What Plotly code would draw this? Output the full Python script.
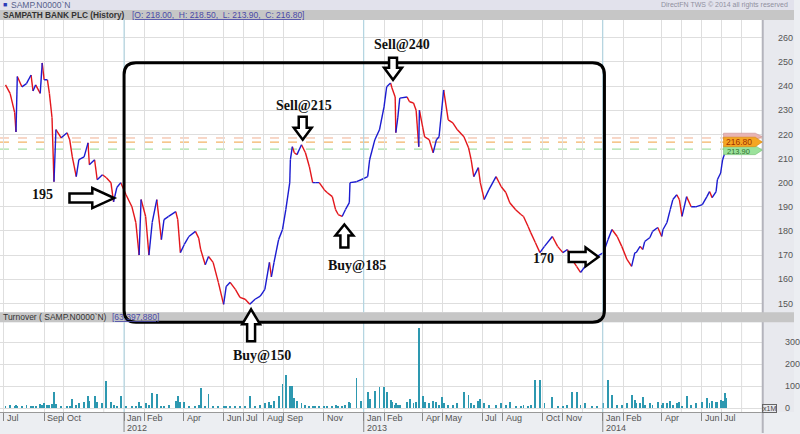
import plotly.graph_objects as go

# ---------------- data ----------------
dates = [
    "2011-07-04", "2011-07-11", "2011-07-18", "2011-07-20", "2011-07-22", "2011-07-29", "2011-08-05",
    "2011-08-12", "2011-08-15", "2011-08-19", "2011-08-26", "2011-08-29", "2011-09-01", "2011-09-06",
    "2011-09-09", "2011-09-13", "2011-09-16", "2011-09-19", "2011-09-27", "2011-10-06", "2011-10-10",
    "2011-10-14", "2011-10-20", "2011-10-24", "2011-11-01", "2011-11-07", "2011-11-09", "2011-11-17",
    "2011-11-21", "2011-11-29", "2011-12-05", "2011-12-12", "2011-12-16", "2011-12-21", "2011-12-27",
    "2012-01-04", "2012-01-13", "2012-01-19", "2012-01-24", "2012-01-27", "2012-02-03", "2012-02-08",
    "2012-02-13", "2012-02-20", "2012-02-27", "2012-03-02", "2012-03-09", "2012-03-20", "2012-03-23",
    "2012-03-27", "2012-04-02", "2012-04-09", "2012-04-19", "2012-04-24", "2012-04-27", "2012-05-04",
    "2012-05-09", "2012-05-16", "2012-05-24", "2012-06-01", "2012-06-05", "2012-06-11", "2012-06-19",
    "2012-06-26", "2012-07-04", "2012-07-11", "2012-07-19", "2012-07-27", "2012-08-03", "2012-08-10",
    "2012-08-13", "2012-08-17", "2012-08-24", "2012-08-30", "2012-09-04", "2012-09-10", "2012-09-11",
    "2012-09-14", "2012-09-17", "2012-09-21", "2012-09-28", "2012-10-04", "2012-10-10", "2012-10-15",
    "2012-10-19", "2012-10-25", "2012-11-02", "2012-11-06", "2012-11-14", "2012-11-19", "2012-11-23",
    "2012-11-29", "2012-12-04", "2012-12-10", "2012-12-11", "2012-12-21", "2012-12-28",
    "2013-01-07", "2013-01-10", "2013-01-18", "2013-01-25", "2013-02-01", "2013-02-05", "2013-02-11",
    "2013-02-13", "2013-02-18", "2013-02-19", "2013-02-22", "2013-02-25", "2013-03-08", "2013-03-12",
    "2013-03-18", "2013-03-22", "2013-03-26", "2013-03-27", "2013-04-01", "2013-04-04", "2013-04-11",
    "2013-04-17", "2013-04-22", "2013-04-26", "2013-04-30", "2013-05-03", "2013-05-10", "2013-05-17",
    "2013-05-24", "2013-06-03", "2013-06-10", "2013-06-14", "2013-06-18", "2013-06-25", "2013-06-28",
    "2013-07-04", "2013-07-11", "2013-07-22", "2013-07-30", "2013-08-06", "2013-08-12", "2013-08-21",
    "2013-08-29", "2013-09-02", "2013-09-09", "2013-09-13", "2013-09-20", "2013-09-27", "2013-10-04",
    "2013-10-16", "2013-10-24", "2013-11-01", "2013-11-08", "2013-11-15", "2013-11-22", "2013-11-28",
    "2013-12-05", "2013-12-16", "2013-12-23",
    "2014-01-02", "2014-01-09", "2014-01-15", "2014-01-23", "2014-01-30", "2014-02-07", "2014-02-14",
    "2014-02-19", "2014-02-21", "2014-02-27", "2014-03-03", "2014-03-06", "2014-03-14", "2014-03-18",
    "2014-03-26", "2014-04-01", "2014-04-03", "2014-04-09", "2014-04-14", "2014-04-18", "2014-04-24",
    "2014-04-28", "2014-05-02", "2014-05-09", "2014-05-16", "2014-05-23", "2014-06-02", "2014-06-09",
    "2014-06-13", "2014-06-17", "2014-06-23", "2014-06-25", "2014-06-30", "2014-07-03", "2014-07-07",
    "2014-07-08",
]

close = [
    240.5, 237, 229, 221, 244, 239.7, 241, 244.6, 238, 240.5, 237, 249.6, 242.6, 242.6, 237, 227, 200.4,
    222, 218.6, 220.7, 217.8, 210.7, 202.5, 209.5, 210.7, 216.5, 207.4, 209.5, 201.2, 203.3, 202, 200,
    192, 198, 200,
    195, 190, 183.5, 170, 193, 186, 170, 183.5, 193, 176.4, 184.7, 186, 188, 184.7, 171, 174.4, 177.7,
    179.8, 177, 172.3, 166, 169.4, 167, 158.7, 149.6, 157, 158.7, 155.8, 152.5, 151.7, 149.6, 151.7, 153,
    155.8, 167, 161, 167, 176.4, 180.6, 188.8, 200, 209.5, 214.9, 212.4, 211.6, 215.7, 212.4, 206.6, 200,
    200, 200, 197, 195.9, 194.2, 188.8, 186.8, 186, 188.8, 191.7, 200, 200.4, 201.2,
    202.5, 209.5, 217.8, 221.9, 231.4, 239.7, 241.3, 239.3, 235.5, 220.7, 226.9, 235, 235.5, 233.5, 233,
    230, 214.9, 230, 223, 219, 217.8, 212.4, 217.8, 219, 230, 238.4, 226, 224.8, 221.9, 219, 214.5, 209.5,
    202.5, 206.2, 200, 193, 197, 202.5, 198.3, 195.9, 191.7, 188.8, 186.8, 186, 181.8, 179.3, 175.2, 171,
    173.6, 177.7, 173.6, 171, 172.3, 168.2, 165.3, 162.8, 165.3, 168.2, 169.4,
    171, 176.4, 180.6, 177.7, 173.6, 168.2, 165.3, 171, 171, 173.6, 172.3, 175.6, 177.3, 179.8, 181.4,
    177.7, 180.6, 183.5, 188.8, 193, 195, 193, 186, 194.2, 190, 190, 190.9, 194.2, 196.3, 193.8, 196.3,
    201.2, 204, 209.5, 212.8, 216.8,
]

turnover = [  # millions
    8, 12, 6, 15, 10, 8, 12, 6, 10, 8, 18, 12, 20, 14, 14, 18, 74, 18, 8, 6, 10, 40, 12, 20, 25, 55, 30,
    55, 25, 20, 123, 25, 15, 8, 55,
    6, 8, 10, 25, 8, 20, 15, 68, 64, 10, 8, 12, 30, 55, 25, 25, 10, 8, 15, 91, 8, 64, 6, 8, 5, 6, 8, 5,
    6, 5, 55, 10, 15, 20, 25, 15, 30, 55, 109, 150, 60, 100, 100, 45, 30, 20, 15, 10, 8, 6, 8, 10, 6, 6,
    15, 8, 8, 12, 25, 20, 136, 30,
    73, 40, 77, 95, 95, 73, 35, 25, 15, 20, 12, 12, 25, 40, 20, 25, 364, 136, 55, 25, 20, 30, 25, 15, 50,
    20, 12, 15, 20, 73, 60, 20, 15, 30, 40, 20, 15, 12, 20, 15, 25, 8, 6, 12, 8, 15, 127, 127, 20, 50, 6,
    8, 15, 73, 73, 12, 20, 8, 6,
    20, 127, 59, 15, 12, 20, 59, 35, 20, 20, 50, 15, 20, 12, 25, 15, 20, 20, 30, 15, 20, 25, 10, 55, 15,
    20, 25, 45, 20, 30, 25, 25, 35, 30, 68, 45,
]

label_dates = ["2011-07-01", "2011-09-01", "2011-10-01", "2012-01-01", "2012-02-01", "2012-04-01",
               "2012-06-01", "2012-07-01", "2012-08-01", "2012-09-01", "2012-11-01", "2013-01-01",
               "2013-02-01", "2013-04-01", "2013-05-01", "2013-07-01", "2013-08-01", "2013-10-01",
               "2013-11-01", "2014-01-01", "2014-02-01", "2014-04-01", "2014-06-01", "2014-07-01"]
label_texts = ["Jul", "Sep", "Oct", "Jan", "Feb", "Apr", "Jun", "Jul", "Aug", "Sep", "Nov",
               "Jan", "Feb", "Apr", "May", "Jul", "Aug", "Oct", "Nov", "Jan", "Feb",
               "Apr", "Jun", "Jul"]
year_dates = ["2012-01-01", "2013-01-01", "2014-01-01"]
year_texts = ["2012", "2013", "2014"]
extra_grid_dates = ["2011-12-01", "2013-12-01", "2014-05-01", "2014-08-01"]

price_ticks = [150, 160, 170, 180, 190, 200, 210, 220, 230, 240, 250, 260]
turnover_ticks = [0, 100, 200, 300]

last_high, last_close, last_low = 218.50, 216.80, 213.90

# ---------------- helpers (pixel -> paper) ----------------
W, H = 800, 434


def px(x):
    return x / W


def py(y):
    return 1 - y / H


def poly(points):
    return "M " + " L ".join(f"{px(x):.5f},{py(y):.5f}" for x, y in points) + " Z"


FONT = "Liberation Sans, Arial, sans-serif"
SERIF = "Liberation Serif, Times New Roman, serif"

fig = go.Figure()

# price: segments coloured by direction
up_x, up_y, dn_x, dn_y = [], [], [], []
for i in range(1, len(dates)):
    if close[i] >= close[i - 1]:
        up_x += [dates[i - 1], dates[i], None]
        up_y += [close[i - 1], close[i], None]
    else:
        dn_x += [dates[i - 1], dates[i], None]
        dn_y += [close[i - 1], close[i], None]

fig.add_trace(go.Scatter(x=dn_x, y=dn_y, mode="lines", line=dict(color="#e3161b", width=1.4),
                         xaxis="x", yaxis="y", hoverinfo="skip"))
fig.add_trace(go.Scatter(x=up_x, y=up_y, mode="lines", line=dict(color="#1b1bd0", width=1.4),
                         xaxis="x", yaxis="y", hoverinfo="skip"))

fig.add_trace(go.Bar(x=dates, y=turnover, xaxis="x2", yaxis="y2",
                     marker=dict(color="#2d98b0", line_width=0), width=1.4 * 86400000,
                     hoverinfo="skip"))

x_range = ["2011-06-25 14:00", "2014-09-01 12:00"]
grid_col = "#dedede"

fig.update_layout(
    width=W, height=H, margin=dict(l=0, r=0, t=0, b=0),
    paper_bgcolor="#eceef2", plot_bgcolor="white", showlegend=False, bargap=0,
    xaxis=dict(domain=[0, px(768)], range=x_range, type="date", anchor="y",
               tickmode="array", tickvals=label_dates + extra_grid_dates,
               showticklabels=False, showgrid=True, gridcolor=grid_col, gridwidth=1,
               zeroline=False, ticks=""),
    yaxis=dict(domain=[py(313), py(20)], range=[146.3, 267.4], side="right", anchor="x",
               tickmode="array", tickvals=price_ticks, showgrid=True, gridcolor=grid_col,
               zeroline=False, ticks="outside", ticklen=13, tickcolor="rgba(0,0,0,0)",
               tickfont=dict(family=FONT, size=9, color="#555")),
    xaxis2=dict(domain=[0, px(768)], range=x_range, type="date", anchor="y2",
                tickmode="array", tickvals=label_dates, showticklabels=False,
                ticks="outside", ticklen=8, tickcolor="#888", tickwidth=1,
                showgrid=True, gridcolor=grid_col, zeroline=False,
                showline=True, linecolor="#999", linewidth=1),
    yaxis2=dict(domain=[py(413), py(323)], range=[-18, 391], side="right", anchor="x2",
                tickmode="array", tickvals=turnover_ticks, showgrid=True, gridcolor=grid_col,
                zeroline=False, ticks="outside", ticklen=20, tickcolor="rgba(0,0,0,0)",
                tickfont=dict(family=FONT, size=9, color="#555")),
)

shapes = []
# background bands
shapes.append(dict(type="rect", xref="paper", yref="paper", x0=0, x1=1, y0=py(10), y1=1,
                   fillcolor="#e2e2ec", line_width=0, layer="below"))
shapes.append(dict(type="rect", xref="paper", yref="paper", x0=0, x1=1, y0=py(20), y1=py(10),
                   fillcolor="#c6c6c6", line_width=0, layer="below"))
shapes.append(dict(type="rect", xref="paper", yref="paper", x0=px(768), x1=1, y0=py(413), y1=py(20),
                   fillcolor="#e8e9ee", line_width=0, layer="below"))
shapes.append(dict(type="line", xref="paper", yref="paper", x0=px(768.5), x1=px(768.5), y0=py(434),
                   y1=py(20), line=dict(color="#b4b4bc", width=2), layer="above"))
shapes.append(dict(type="rect", xref="paper", yref="paper", x0=0, x1=1, y0=py(323), y1=py(313),
                   fillcolor="#c6c6c6", line_width=0, layer="above"))

# extra unlabeled month gridlines in the turnover panel
for d in extra_grid_dates:
    shapes.append(dict(type="line", xref="x2", yref="paper", x0=d, x1=d, y0=py(413), y1=py(323),
                       line=dict(color=grid_col, width=1), layer="below"))

# January (year) gridlines, bluish, plus long ticks
for d in year_dates:
    shapes.append(dict(type="line", xref="x", yref="paper", x0=d, x1=d, y0=py(313), y1=py(20),
                       line=dict(color="#a9d3e2", width=1), layer="above"))
    shapes.append(dict(type="line", xref="x2", yref="paper", x0=d, x1=d, y0=py(413), y1=py(323),
                       line=dict(color="#a9d3e2", width=1), layer="above"))
    shapes.append(dict(type="line", xref="x2", yref="paper", x0=d, x1=d, y0=py(433), y1=py(413),
                       line=dict(color="#888", width=1), layer="above"))

# last high / close / low dashed lines
for val, col in ((last_high, "#f0b090"), (last_close, "#f0a040"), (last_low, "#8fd88f")):
    shapes.append(dict(type="line", xref="paper", yref="y", x0=0, x1=px(768), y0=val, y1=val,
                       line=dict(color=col, width=1, dash="dash"), layer="below"))

# rounded rectangle
x0, x1, y0, y1, r = 125, 609, 63, 323, 12
rr = (f"M {px(x0 + r)},{py(y0)} L {px(x1 - r)},{py(y0)} Q {px(x1)},{py(y0)} {px(x1)},{py(y0 + r)} "
      f"L {px(x1)},{py(y1 - r)} Q {px(x1)},{py(y1)} {px(x1 - r)},{py(y1)} "
      f"L {px(x0 + r)},{py(y1)} Q {px(x0)},{py(y1)} {px(x0)},{py(y1 - r)} "
      f"L {px(x0)},{py(y0 + r)} Q {px(x0)},{py(y0)} {px(x0 + r)},{py(y0)} Z")
shapes.append(dict(type="path", xref="paper", yref="paper", path=rr,
                   line=dict(color="black", width=3), layer="above"))


def down_arrow(cx, top, tip, head_y, hw=9, sw=4):
    return [(cx - sw, top), (cx + sw, top), (cx + sw, head_y), (cx + hw, head_y), (cx, tip),
            (cx - hw, head_y), (cx - sw, head_y)]


def up_arrow(cx, tip, head_y, bottom, hw=9, sw=4):
    return [(cx, tip), (cx + hw, head_y), (cx + sw, head_y), (cx + sw, bottom), (cx - sw, bottom),
            (cx - sw, head_y), (cx - hw, head_y)]


def right_arrow(left, head_x, tip, cy, hh=10, sh=4.5):
    return [(left, cy - sh), (head_x, cy - sh), (head_x, cy - hh), (tip, cy), (head_x, cy + hh),
            (head_x, cy + sh), (left, cy + sh)]


arrows = [
    down_arrow(396, 58, 80, 68),
    down_arrow(305, 117, 140, 128),
    up_arrow(347, 225, 236, 248),
    up_arrow(253, 310, 325, 342),
    right_arrow(70, 93, 115, 198.5),
    right_arrow(573, 590, 603, 257.5, hh=9.5, sh=5),
]
for a in arrows:
    shapes.append(dict(type="path", xref="paper", yref="paper", path=poly(a),
                       fillcolor="white", line=dict(color="black", width=2.5), layer="above"))

# price tags on the right edge: high (mostly hidden), low, close
shapes.append(dict(type="path", xref="paper", yref="paper",
                   path=poly([(729, 133.5), (761, 133.5), (768, 137), (761, 140), (729, 140)]),
                   fillcolor="#e8b4b4", line=dict(color="#c89090", width=0.6), layer="above"))
shapes.append(dict(type="path", xref="paper", yref="paper",
                   path=poly([(729, 146), (761, 146), (768, 150.5), (761, 155), (729, 155)]),
                   fillcolor="#9be29b", line=dict(color="#78c078", width=0.6), layer="above"))
shapes.append(dict(type="path", xref="paper", yref="paper",
                   path=poly([(729, 137.5), (761, 137.5), (768, 142.3), (761, 147), (729, 147)]),
                   fillcolor="#f5a623", line=dict(color="#d88a10", width=0.6), layer="above"))

fig.update_layout(shapes=shapes)

ann = []


def text(x, y, s, size=9, color="#333", family=FONT, xanchor="left", **kw):
    ann.append(dict(x=px(x), y=py(y), xref="paper", yref="paper", text=s, showarrow=False,
                    xanchor=xanchor, yanchor="middle", font=dict(family=family, size=size, color=color),
                    **kw))


text(1, 5, "■", size=7, color="#2a3cb8")
text(9, 5, "SAMP.N0000`N", size=8.5, color="#55608a")
text(796, 5, "DirectFN TWS © 2014 all rights reserved", size=7, color="#9090a0", xanchor="right")
text(1, 15, "<b>SAMPATH BANK PLC (History)</b>", size=8.3, color="#333")
text(131, 15, f"<u>[O: 218.00,  H: {last_high:.2f},  L: {last_low:.2f},  C: {last_close:.2f}]</u>",
     size=8.5, color="#4a4aa8")
text(1, 318, "Turnover ( SAMP.N0000`N)", size=8.5, color="#333")
text(111, 318, "<u>[63,397,880]</u>", size=8.5, color="#4a4aa8")
text(775.5, 409, "x1M", size=7, color="#444", xanchor="center", bordercolor="#666", borderwidth=1,
     borderpad=0)

# trade annotations
for x, y, s in ((405, 45, "Sell@240"), (306, 106, "Sell@215"), (360, 266, "Buy@185"),
                (264, 356, "Buy@150"), (43, 195, "195"), (548, 259, "170")):
    text(x, y, f"<b>{s}</b>", size=14, color="#111", family=SERIF, xanchor="center")

# value tags text
text(744.5, 142.3, f"{last_close:.2f}", size=8.5, color="#a03000", xanchor="center")
text(744.5, 151.6, f"{last_low:.2f}", size=7.5, color="#2f6f2f", xanchor="center")

# x axis labels
for d, s in zip(label_dates, label_texts):
    ann.append(dict(x=d, xref="x2", y=py(419), yref="paper", text=s, showarrow=False,
                    xanchor="left", yanchor="middle", xshift=1,
                    font=dict(family=FONT, size=9, color="#555")))
for d, s in zip(year_dates, year_texts):
    ann.append(dict(x=d, xref="x2", y=py(428.5), yref="paper", text=s, showarrow=False,
                    xanchor="left", yanchor="middle", xshift=1,
                    font=dict(family=FONT, size=9, color="#555")))

fig.update_layout(annotations=ann)

fig.write_html("out.html", config={"displayModeBar": False},
               post_script="document.body.style.margin='0';document.body.style.overflow='hidden';")
